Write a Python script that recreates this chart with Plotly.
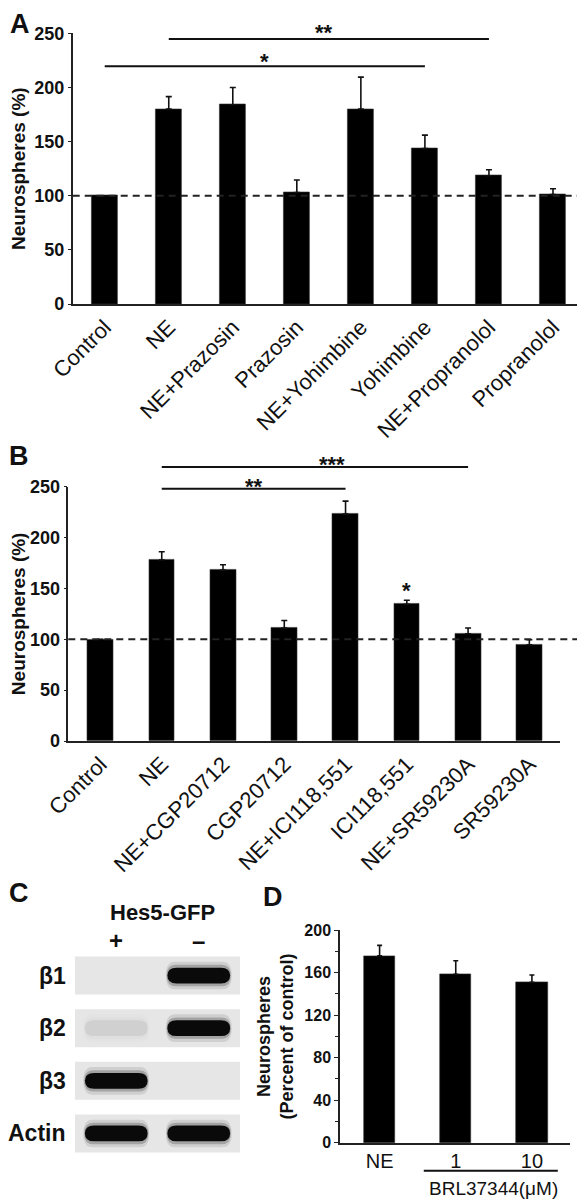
import plotly.graph_objects as go

# ---------------- data ----------------
# Panel A
a_categories = ["Control", "NE", "NE+Prazosin", "Prazosin", "NE+Yohimbine",
                "Yohimbine", "NE+Propranolol", "Propranolol"]
a_values = [100, 180, 184, 103, 180, 143.5, 118.5, 101]
a_errors = [0, 11.5, 16, 11.5, 29.5, 12.5, 5.5, 5.5]
a_sig_from = [1, 0]
a_sig_to = [6, 5]
a_sig_level = [244.7, 219.6]
a_sig_text = ["**", "*"]
a_sig_text_x = [3.43, 2.49]
a_sig_text_y = [255, 229]

# Panel B
b_categories = ["Control", "NE", "NE+CGP20712", "CGP20712", "NE+ICI118,551",
                "ICI118,551", "NE+SR59230A", "SR59230A"]
b_values = [100, 178, 168, 111, 223, 134.5, 105.5, 94.5]
b_errors = [0, 8, 5.2, 7.5, 12.8, 3.8, 5.6, 5]
b_sig_from = [1, 1]
b_sig_to = [6, 4]
b_sig_level = [269.4, 248.0]
b_sig_text = ["***", "**"]
b_sig_text_x = [3.78, 2.5]
b_sig_text_y = [277, 255.6]
b_star_x = [5]
b_star_y = [152.7]

# Panel C (RT-PCR gel)
c_rows = ["β1", "β2", "β3", "Actin"]
c_lanes = ["+", "–"]
c_band_intensity = [[0.0, 1.0], [0.1, 1.0], [1.0, 0.0], [1.0, 1.0]]

# Panel D
d_categories = ["NE", "1", "10"]
d_values = [176, 158.5, 151]
d_errors = [9.7, 12.8, 6.8]

# ---------------- layout helpers ----------------
OFF = 8                      # default page (body) margin of the html page
W, H = 585 - OFF, 1199 - OFF
FONT = "Liberation Sans"


def px(x):
    return (x - OFF) / W


def py(y):
    return 1 - (y - OFF) / H


A_XDOM, A_YDOM = [px(72.7), px(585)], [py(304), py(33.3)]
B_XDOM, B_YDOM = [px(68.3), px(560)], [py(741), py(486.7)]
C_XDOM, C_YDOM = [px(75), px(240)], [py(1159.8), py(949.2)]
D_XDOM, D_YDOM = [px(340), px(570)], [py(1142.7), py(930.2)]


def to_paper(v, dom, vmax):
    return dom[0] + v / vmax * (dom[1] - dom[0])


fig = go.Figure()


def add_bars(cats, vals, errs, xa, ya, width, capw):
    fig.add_trace(go.Bar(
        x=cats, y=vals, xaxis=xa, yaxis=ya, width=width,
        marker=dict(color="black", line=dict(color="#333", width=0.6)),
        error_y=dict(type="data", symmetric=False, array=errs,
                     arrayminus=[0] * len(errs), color="#111",
                     thickness=1.6, width=capw),
        showlegend=False, hoverinfo="skip"))


add_bars(a_categories, a_values, a_errors, "x", "y", 0.41, 3)
add_bars(b_categories, b_values, b_errors, "x2", "y2", 0.42, 3)
add_bars(d_categories, d_values, d_errors, "x3", "y3", 0.41, 2.5)
# anchor trace for gel subplot
fig.add_trace(go.Scatter(x=[0, 1], y=[0, 3], xaxis="x4", yaxis="y4", mode="markers",
                         marker=dict(opacity=0), showlegend=False, hoverinfo="skip"))

shapes = []
annotations = []

# dashed 100% reference lines
for yref, xend in (("y", 1.0), ("y2", 1.0407)):
    shapes.append(dict(type="line", xref=yref.replace("y", "x") + " domain", yref=yref,
                       x0=0, x1=xend, y0=100, y1=100, layer="above",
                       line=dict(color="#222", width=2, dash="7px,5px")))


# significance bars
def add_sig(xa, ya, ydom, vmax, froms, tos, levels, texts, tx, ty):
    for f, t, lv, txt, x, y in zip(froms, tos, levels, texts, tx, ty):
        shapes.append(dict(type="line", xref=xa, yref=ya + " domain",
                           x0=f, x1=t, y0=lv / vmax, y1=lv / vmax,
                           line=dict(color="#111", width=2)))
        annotations.append(dict(xref=xa, yref="paper", x=x, y=to_paper(y, ydom, vmax),
                                text=txt, showarrow=False, xanchor="center",
                                yanchor="middle", yshift=-5,
                                font=dict(family=FONT, size=22, color="#111", weight="bold")))


add_sig("x", "y", A_YDOM, 250, a_sig_from, a_sig_to, a_sig_level, a_sig_text,
        a_sig_text_x, a_sig_text_y)
add_sig("x2", "y2", B_YDOM, 250, b_sig_from, b_sig_to, b_sig_level, b_sig_text,
        b_sig_text_x, b_sig_text_y)
for x, y in zip(b_star_x, b_star_y):
    annotations.append(dict(xref="x2", yref="paper", x=x, y=to_paper(y, B_YDOM, 250),
                            text="*", showarrow=False, xanchor="center", yanchor="middle",
                            yshift=-5,
                            font=dict(family=FONT, size=22, color="#111", weight="bold")))

# gel panel C
BOX_H = 0.72
BAND_W, BAND_H = 0.76, 0.30


def band_path(cx, cy, w, h):
    x0, x1 = cx - w / 2, cx + w / 2
    y0, y1 = cy - h / 2, cy + h / 2
    rx = 0.11
    return (f"M {x0 + rx},{y0} L {x1 - rx},{y0} Q {x1},{y0} {x1},{cy} "
            f"Q {x1},{y1} {x1 - rx},{y1} L {x0 + rx},{y1} Q {x0},{y1} {x0},{cy} "
            f"Q {x0},{y0} {x0 + rx},{y0} Z")


for r, row in enumerate(c_rows):
    shapes.append(dict(type="rect", xref="x4", yref="y4", x0=-0.5, x1=1.5,
                       y0=r - BOX_H / 2, y1=r + BOX_H / 2, layer="below",
                       fillcolor="#e6e6e6", line=dict(width=0)))
    for l, _ in enumerate(c_lanes):
        inten = c_band_intensity[r][l]
        if inten <= 0:
            continue
        g = int(round(230 - inten * (230 - 10)))
        col = f"rgb({g},{g},{g})"
        for sw, sh, op in ((1.05, 1.75, 0.10), (1.025, 1.35, 0.22), (1.0, 1.0, 1.0)):
            shapes.append(dict(type="path", xref="x4", yref="y4",
                               path=band_path(l, r, BAND_W * sw, BAND_H * sh),
                               fillcolor=col, opacity=op, line=dict(width=0), layer="above"))
    annotations.append(dict(xref="paper", yref="y4", x=C_XDOM[0], y=r, xanchor="right",
                            xshift=-7, text=row, showarrow=False, yanchor="middle",
                            font=dict(family=FONT, size=23, color="#111", weight="bold")))

# lane headers
lane_px = [116, 198]
for lx, lab in zip(lane_px, c_lanes):
    annotations.append(dict(xref="paper", yref="paper", x=px(lx), y=py(940),
                            text=lab, showarrow=False, xanchor="center", yanchor="middle",
                            font=dict(family=FONT, size=24, color="#111", weight="bold")))
annotations.append(dict(xref="paper", yref="paper", x=px(162), y=py(912),
                        text="Hes5-GFP", showarrow=False, xanchor="center", yanchor="middle",
                        font=dict(family=FONT, size=22, color="#111", weight="bold")))

# panel D bracket + label
shapes.append(dict(type="line", xref="x3", yref="paper", x0=0.58, x1=2.34,
                   y0=py(1170.7), y1=py(1170.7), line=dict(color="#111", width=2)))
annotations.append(dict(xref="x3", yref="paper", x=1.5, y=py(1188.5),
                        text="BRL37344(μM)", showarrow=False, xanchor="center",
                        yanchor="middle",
                        font=dict(family=FONT, size=19, color="#111")))

# panel letters
letter_font = dict(family=FONT, size=27, color="#111", weight="bold")
annotations.append(dict(xref="paper", yref="paper", x=px(20), y=1.0, text="A",
                        showarrow=False, xanchor="center", yanchor="top", borderpad=0,
                        font=letter_font))
for txt, lx, ly in (("B", 19, 456), ("C", 19, 893), ("D", 273, 897)):
    annotations.append(dict(xref="paper", yref="paper", x=px(lx), y=py(ly),
                            text=txt, showarrow=False, xanchor="center", yanchor="middle",
                            font=letter_font))

axis_line = dict(showline=True, linecolor="#222", linewidth=1.5, showgrid=False,
                 zeroline=False, automargin=False)
ytitle_font = dict(family=FONT, size=19, color="#111", weight="bold")
ytick_font = dict(family=FONT, size=18, color="#111", weight="bold")
xtick_font = dict(family=FONT, size=22, color="#111")

fig.update_layout(
    width=W, height=H, autosize=False,
    margin=dict(l=0, r=0, t=0, b=0, autoexpand=False),
    paper_bgcolor="white", plot_bgcolor="white",
    bargap=0, showlegend=False,
    font=dict(family=FONT, color="#111"),
    xaxis=dict(domain=A_XDOM, anchor="y", range=[-0.5, 7.5], tickangle=-45,
               tickfont=xtick_font, ticks="", **axis_line),
    yaxis=dict(domain=A_YDOM, anchor="x", range=[0, 250], tickvals=[0, 50, 100, 150, 200, 250],
               ticks="outside", ticklen=3, tickcolor="#222", tickfont=ytick_font,
               title=dict(text="Neurospheres (%)", font=ytitle_font, standoff=6), **axis_line),
    xaxis2=dict(domain=B_XDOM, anchor="y2", range=[-0.525, 7.5], tickangle=-45,
                tickfont=xtick_font, ticks="", **axis_line),
    yaxis2=dict(domain=B_YDOM, anchor="x2", range=[0, 250], tickvals=[0, 50, 100, 150, 200, 250],
                ticks="outside", ticklen=3, tickcolor="#222", tickfont=ytick_font,
                title=dict(text="Neurospheres (%)", font=ytitle_font, standoff=6), **axis_line),
    xaxis3=dict(domain=D_XDOM, anchor="y3", range=[-0.52, 2.5],
                tickfont=dict(family=FONT, size=20, color="#111"), ticks="", **axis_line),
    yaxis3=dict(domain=D_YDOM, anchor="x3", range=[0, 200], tickvals=[0, 40, 80, 120, 160, 200],
                ticks="outside", ticklen=4, tickcolor="#222",
                minor=dict(dtick=20, ticks="outside", ticklen=3, tickcolor="#222", showgrid=False),
                tickfont=dict(family=FONT, size=16, color="#111", weight="bold"),
                title=dict(text="Neurospheres<br>(Percent of control)",
                           font=dict(family=FONT, size=18, color="#111", weight="bold"),
                           standoff=6),
                **axis_line),
    xaxis4=dict(domain=C_XDOM, anchor="y4", range=[-0.5, 1.5], showticklabels=False,
                showgrid=False, zeroline=False, showline=False, ticks="", automargin=False),
    yaxis4=dict(domain=C_YDOM, anchor="x4", range=[3.5, -0.5], showticklabels=False,
                showgrid=False, zeroline=False, showline=False, ticks="", automargin=False),
    shapes=shapes,
    annotations=annotations,
)

fig.write_html("out.html")
